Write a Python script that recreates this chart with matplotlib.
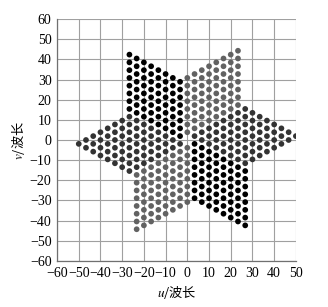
import numpy as np
import matplotlib
matplotlib.use('Agg')
import matplotlib.pyplot as plt

# uv 覆盖: 六个菱形扇区, 每个扇区由两条边方向上的格点组成
lattice_step = 3.85          # 格点间距 (波长)
inner_steps = [0, 1, 2, 3, 4, 5, 6, 7]   # 沿扇区起始边的格点序号
outer_steps = [1, 2, 3, 4, 5, 6, 7, 8]   # 沿扇区另一边 (+60°) 的格点序号
wedge_angles = [90, 270, 30, 210, -30, 150]
wedge_colors = ['#000000', '#000000', '#626262', '#626262', '#333333', '#333333']

x_ticks = [-60, -50, -40, -30, -20, -10, 0, 10, 20, 30, 40, 50]
y_ticks = [-60, -50, -40, -30, -20, -10, 0, 10, 20, 30, 40, 50, 60]

plt.rcParams['mathtext.fontset'] = 'stix'

fig = plt.figure(figsize=(3.28, 3.07), dpi=100)
ax = fig.add_axes([0.174, 0.150, 0.728, 0.788])

for ang, col in zip(wedge_angles, wedge_colors):
    a1 = np.deg2rad(ang)
    a2 = np.deg2rad(ang + 60)
    p, q = np.meshgrid(inner_steps, outer_steps)
    p = p.ravel() * lattice_step
    q = q.ravel() * lattice_step
    u = p * np.cos(a1) + q * np.cos(a2)
    v = p * np.sin(a1) + q * np.sin(a2)
    ax.scatter(u, v, s=17, c=col, edgecolors='none', zorder=3)

ax.set_xlim(-60, 50)
ax.set_ylim(-60, 60)
ax.set_xticks(x_ticks)
ax.set_yticks(y_ticks)
ax.set_xticklabels([str(t).replace('-', '\u2212') for t in x_ticks],
                   family='Liberation Serif', fontsize=10)
ax.set_yticklabels([str(t).replace('-', '\u2212') for t in y_ticks],
                   family='Liberation Serif', fontsize=10)
ax.tick_params(length=0, pad=4)
ax.grid(True, color='#a0a0a0', linewidth=0.8)
ax.set_axisbelow(True)
for side in ['top', 'right']:
    ax.spines[side].set_visible(False)
for side in ['left', 'bottom']:
    ax.spines[side].set_color('#707070')
    ax.spines[side].set_linewidth(0.9)

ax.set_xlabel('$u$/波长', family='Noto Sans CJK SC', fontsize=9.5, labelpad=3)
ax.set_ylabel('$v$/波长', family='Noto Sans CJK SC', fontsize=9.5, labelpad=2)

fig.savefig('out.png', dpi=100)
